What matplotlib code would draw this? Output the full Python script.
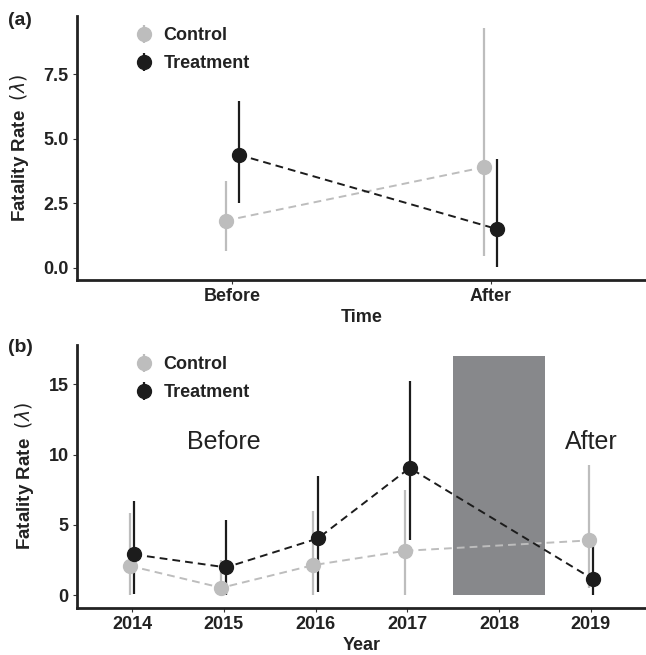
import matplotlib
matplotlib.use("Agg")
import matplotlib.pyplot as plt
from matplotlib.patches import Rectangle

plt.rcParams['font.family'] = ['Liberation Sans', 'DejaVu Sans']

# Panel (a): before / after
periods = ["Before", "After"]
a_control = [1.83, 3.90]
a_control_lo = [0.67, 0.47]
a_control_hi = [3.37, 9.29]
a_treat = [4.38, 1.50]
a_treat_lo = [2.50, 0.03]
a_treat_hi = [6.45, 4.21]

# Panel (b): by year
years = [2014, 2015, 2016, 2017, 2018, 2019]
obs_years = [2014, 2015, 2016, 2017, 2019]
b_control = [2.08, 0.52, 2.13, 3.15, 3.89]
b_control_lo = [0.0, 0.0, 0.0, 0.0, 0.47]
b_control_hi = [5.85, 2.49, 6.00, 7.46, 9.29]
b_treat = [2.89, 1.97, 4.03, 9.05, 1.12]
b_treat_lo = [0.05, 0.0, 0.24, 3.90, 0.0]
b_treat_hi = [6.70, 5.33, 8.46, 15.23, 4.20]
gap_year = 2018
gap_top = 17

CTRL = "#bdbdbd"
TRT = "#1c1c1c"
DODGE = 0.025


def draw_series(ax, x, y, lo, hi, color, label, shift):
    xs = [v + shift for v in x]
    ax.plot(xs, y, ls=(0, (4, 2.6)), color=color, lw=1.4, zorder=2)
    err = [[a - b for a, b in zip(y, lo)], [b - a for a, b in zip(y, hi)]]
    return ax.errorbar(xs, y, yerr=err, fmt="o", color=color, ms=10,
                       elinewidth=1.6, capsize=0, label=label, zorder=3)


def style_axes(ax):
    for s in ["top", "right"]:
        ax.spines[s].set_visible(False)
    for s in ["left", "bottom"]:
        ax.spines[s].set_linewidth(2.0)
        ax.spines[s].set_color("#222222")
    ax.tick_params(axis="both", length=3, width=0.8, color="#333333",
                   labelsize=13, labelcolor="#222222", pad=3)
    for lab in ax.get_xticklabels() + ax.get_yticklabels():
        lab.set_fontweight("bold")
    ax.set_ylabel("Fatality Rate  " + r"$(\lambda)$", fontsize=13.5,
                  fontweight="bold", color="#222222", labelpad=9)


def add_legend(ax, handles):
    leg = ax.legend(handles=handles, loc="upper left",
                    bbox_to_anchor=(0.07, 1.02), frameon=False,
                    prop={"weight": "bold", "size": 13},
                    handletextpad=0.5, labelspacing=0.62, handlelength=1.2)
    for t in leg.get_texts():
        t.set_color("#222222")


fig = plt.figure(figsize=(6.46, 6.55), dpi=100)

# ---- (a)
ax1 = fig.add_axes([0.119, 0.5725, 0.881, 0.403])
xpos = [1, 2]
h1 = draw_series(ax1, xpos, a_control, a_control_lo, a_control_hi, CTRL, "Control", -DODGE)
h2 = draw_series(ax1, xpos, a_treat, a_treat_lo, a_treat_hi, TRT, "Treatment", DODGE)
ax1.set_xlim(0.4, 2.6)
ax1.set_ylim(-0.47, 9.75)
ax1.set_xticks(xpos)
ax1.set_xticklabels(periods)
ax1.set_yticks([0, 2.5, 5.0, 7.5])
ax1.set_yticklabels(["0.0", "2.5", "5.0", "7.5"])
ax1.set_xlabel("Time", fontsize=13, fontweight="bold", color="#222222", labelpad=2.5)
style_axes(ax1)
add_legend(ax1, [h1, h2])
fig.text(0.012, 0.969, "(a)", fontsize=14, fontweight="bold", color="#222222", va="center")

# ---- (b)
ax2 = fig.add_axes([0.119, 0.0722, 0.881, 0.401])
ax2.add_patch(Rectangle((gap_year - 0.5, 0), 1.0, gap_top,
                        facecolor="#87888b", edgecolor="none", zorder=1))
h3 = draw_series(ax2, obs_years, b_control, b_control_lo, b_control_hi, CTRL, "Control", -DODGE)
h4 = draw_series(ax2, obs_years, b_treat, b_treat_lo, b_treat_hi, TRT, "Treatment", DODGE)
ax2.set_xlim(years[0] - 0.6, years[-1] + 0.6)
ax2.set_ylim(-0.9, 17.8)
ax2.set_xticks(years)
ax2.set_xticklabels([str(y) for y in years])
ax2.set_yticks([0, 5, 10, 15])
ax2.set_xlabel("Year", fontsize=13, fontweight="bold", color="#222222", labelpad=2.5)
style_axes(ax2)
add_legend(ax2, [h3, h4])
ax2.text(2015, 10.9, "Before", fontsize=18, ha="center", va="center", color="#222222")
ax2.text(2019, 10.9, "After", fontsize=18, ha="center", va="center", color="#222222")
fig.text(0.012, 0.470, "(b)", fontsize=14, fontweight="bold", color="#222222", va="center")

fig.savefig("out.png", dpi=100)
